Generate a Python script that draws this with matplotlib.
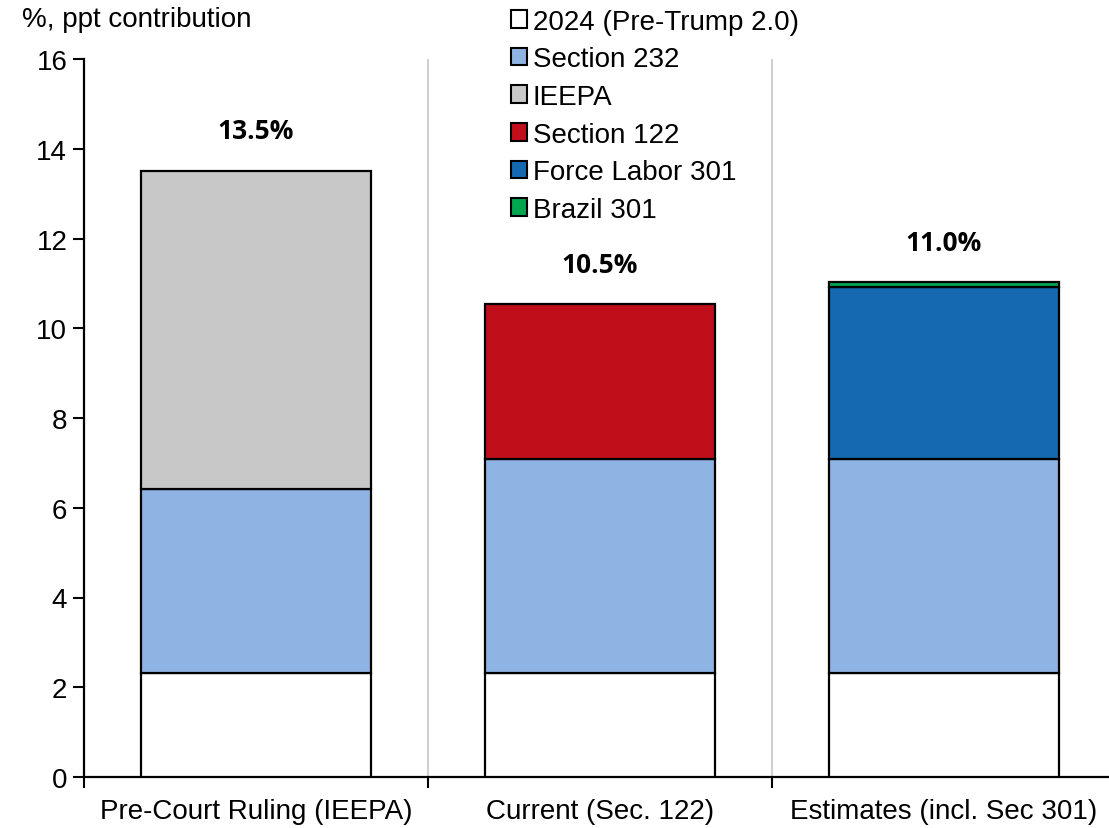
import numpy as np
import matplotlib.pyplot as plt
from matplotlib.patches import Patch

plt.rcParams['font.family'] = ['Liberation Sans', 'DejaVu Sans']

categories = ['Pre-Court Ruling (IEEPA)', 'Current (Sec. 122)', 'Estimates (incl. Sec 301)']
series_names = ['2024 (Pre-Trump 2.0)', 'Section 232', 'IEEPA', 'Section 122',
                'Force Labor 301', 'Brazil 301']
base_2024 = [2.32, 2.32, 2.32]
sec_232 = [4.09, 4.76, 4.76]
ieepa = [7.09, 0.0, 0.0]
sec_122 = [0.0, 3.45, 0.0]
force_labor = [0.0, 0.0, 3.83]
brazil = [0.0, 0.0, 0.11]
totals_lbl = ['13.5%', '10.5%', '11.0%']
colors = ['#ffffff', '#8eb4e3', '#c8c8c8', '#c00f1a', '#1469b0', '#00a550']

fig = plt.figure(figsize=(11.09, 8.29), dpi=100)
ax = fig.add_axes([84 / 1109, 51 / 829, 1 - 84 / 1109, (778 - 60) / 829])

x = np.arange(len(categories))
bottom = np.zeros(len(categories))
for vals, c in zip([base_2024, sec_232, ieepa, sec_122, force_labor, brazil], colors):
    vals = np.array(vals)
    mask = vals > 0
    ax.bar(x[mask], vals[mask], width=0.669, bottom=bottom[mask], color=c,
           edgecolor='black', linewidth=1.6, zorder=3)
    bottom += vals

for xi, tot, lbl in zip(x, bottom, totals_lbl):
    ax.text(xi, tot + 0.6, lbl, ha='center', va='bottom', fontsize=19,
            fontweight='bold', family=['Open Sans', 'DejaVu Sans'])

# separators between groups
for b in [0.5, 1.5]:
    ax.axvline(b, color='#d0d0d0', linewidth=1.5, zorder=1)

ax.set_xlim(-0.5, 2.48)
ax.set_ylim(0, 16)
ax.set_yticks(range(0, 17, 2))
ax.set_xticks(x)
ax.set_xticklabels(categories)
ax.set_xticks([-0.5, 0.5, 1.5], minor=True)
ax.tick_params(axis='x', which='major', length=0, labelsize=20, pad=15)
ax.tick_params(axis='x', which='minor', length=8, width=1.5, direction='out')
ax.tick_params(axis='y', length=8, width=1.5, labelsize=20, pad=4)
for s in ['top', 'right']:
    ax.spines[s].set_visible(False)
ax.spines['left'].set_linewidth(1.6)
ax.spines['bottom'].set_linewidth(1.6)

handles = [Patch(facecolor=c, edgecolor='black', linewidth=1.5) for c in colors]
ax.legend(handles, series_names, loc='upper left',
          bbox_to_anchor=(494 / 1109, 1 + 7 / 829),
          bbox_transform=fig.transFigure, frameon=False, fontsize=20,
          handlelength=0.6, handleheight=0.6, handletextpad=0.2,
          labelspacing=0.42, borderpad=0.1)

fig.text(22 / 1109, 1 - 20 / 829, '%, ppt contribution', fontsize=20, va='center', ha='left')

fig.savefig('out.png', dpi=100)
